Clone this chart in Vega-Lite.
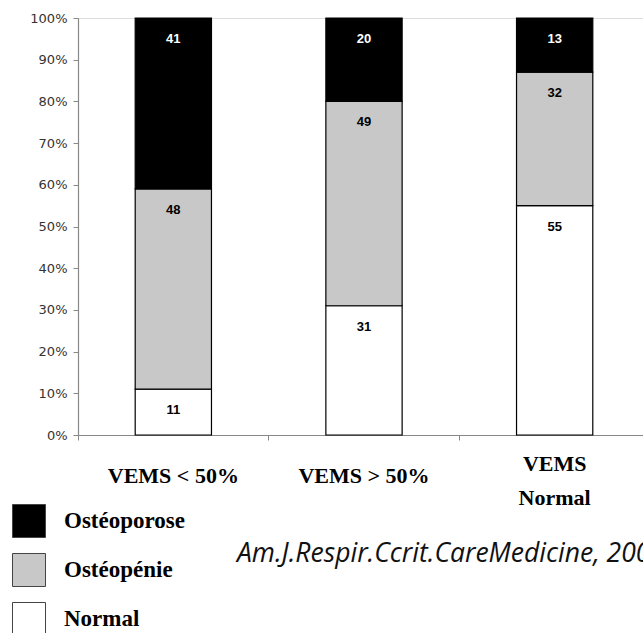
{
  "$schema": "https://vega.github.io/schema/vega-lite/v6.json",
  "autosize": {"type": "none"},
  "width": 572,
  "height": 417,
  "padding": {"left": 78, "top": 18, "right": 0, "bottom": 198},
  "background": "white",
  "title": {
    "text": "Am.J.Respir.Ccrit.CareMedicine, 200",
    "orient": "bottom",
    "anchor": "start",
    "dx": 225,
    "offset": -97,
    "font": "Open Sans",
    "fontStyle": "italic",
    "fontWeight": "normal",
    "fontSize": 26.5,
    "color": "#111111"
  },
  "data": {
    "values": [
      {"groupe": "VEMS < 50%", "segment": "Normal", "ordre": 1, "valeur": 11},
      {"groupe": "VEMS < 50%", "segment": "Ostéopénie", "ordre": 2, "valeur": 48},
      {"groupe": "VEMS < 50%", "segment": "Ostéoporose", "ordre": 3, "valeur": 41},
      {"groupe": "VEMS > 50%", "segment": "Normal", "ordre": 1, "valeur": 31},
      {"groupe": "VEMS > 50%", "segment": "Ostéopénie", "ordre": 2, "valeur": 49},
      {"groupe": "VEMS > 50%", "segment": "Ostéoporose", "ordre": 3, "valeur": 20},
      {"groupe": "VEMS Normal", "segment": "Normal", "ordre": 1, "valeur": 55},
      {"groupe": "VEMS Normal", "segment": "Ostéopénie", "ordre": 2, "valeur": 32},
      {"groupe": "VEMS Normal", "segment": "Ostéoporose", "ordre": 3, "valeur": 13}
    ]
  },
  "encoding": {
    "x": {
      "field": "groupe",
      "type": "nominal",
      "sort": null,
      "scale": {"paddingInner": 0.6, "paddingOuter": 0.3},
      "axis": {
        "title": null,
        "labelAngle": 0,
        "labelFont": "Liberation Serif",
        "labelFontWeight": "bold",
        "labelFontSize": 22,
        "labelColor": "black",
        "labelBaseline": "middle",
        "labelPadding": {"condition": {"test": "datum.value == 'VEMS Normal'", "value": 23}, "value": 35},
        "labelLineHeight": 34,
        "labelExpr": "datum.value == 'VEMS Normal' ? ['VEMS', 'Normal'] : datum.value",
        "bandPosition": -0.75,
        "tickSize": 5,
        "tickColor": "#888888",
        "domainColor": "#888888",
        "domainWidth": 1.2
      }
    },
    "y": {
      "field": "valeur",
      "type": "quantitative",
      "stack": "zero",
      "scale": {"domain": [0, 100], "nice": false},
      "axis": {
        "title": null,
        "values": [0, 10, 20, 30, 40, 50, 60, 70, 80, 90, 100],
        "labelExpr": "datum.value + '%'",
        "grid": false,
        "labelFont": "DejaVu Sans",
        "labelFontSize": 13,
        "labelColor": "#333333",
        "labelPadding": 6,
        "tickSize": 5,
        "tickColor": "#888888",
        "domainColor": "#888888",
        "domainWidth": 1.2
      }
    },
    "order": {"field": "ordre", "type": "quantitative", "sort": "ascending"}
  },
  "layer": [
    {
      "mark": {"type": "bar", "stroke": "black", "strokeWidth": 1.2},
      "encoding": {
        "color": {
          "field": "segment",
          "type": "nominal",
          "scale": {"domain": ["Ostéoporose", "Ostéopénie", "Normal"], "range": ["#000000", "#c8c8c8", "#ffffff"]},
          "legend": {
            "title": null,
            "orient": "none",
            "legendX": -66,
            "legendY": 486,
            "padding": 0,
            "symbolType": "square",
            "symbolSize": 1089,
            "symbolStrokeColor": "#444444",
            "symbolStrokeWidth": 1,
            "symbolOpacity": 1,
            "rowPadding": 11,
            "labelOffset": 18,
            "labelFont": "Liberation Serif",
            "labelFontWeight": "bold",
            "labelFontSize": 23,
            "labelColor": "black",
            "labelBaseline": "middle"
          }
        }
      }
    },
    {
      "mark": {"type": "text", "dy": 21, "baseline": "middle", "font": "Liberation Sans", "fontWeight": "bold", "fontSize": 13},
      "encoding": {
        "text": {"field": "valeur", "type": "quantitative"},
        "color": {
          "condition": {"test": "datum.segment == 'Ostéoporose'", "value": "white"},
          "value": "black"
        }
      }
    }
  ]
}
